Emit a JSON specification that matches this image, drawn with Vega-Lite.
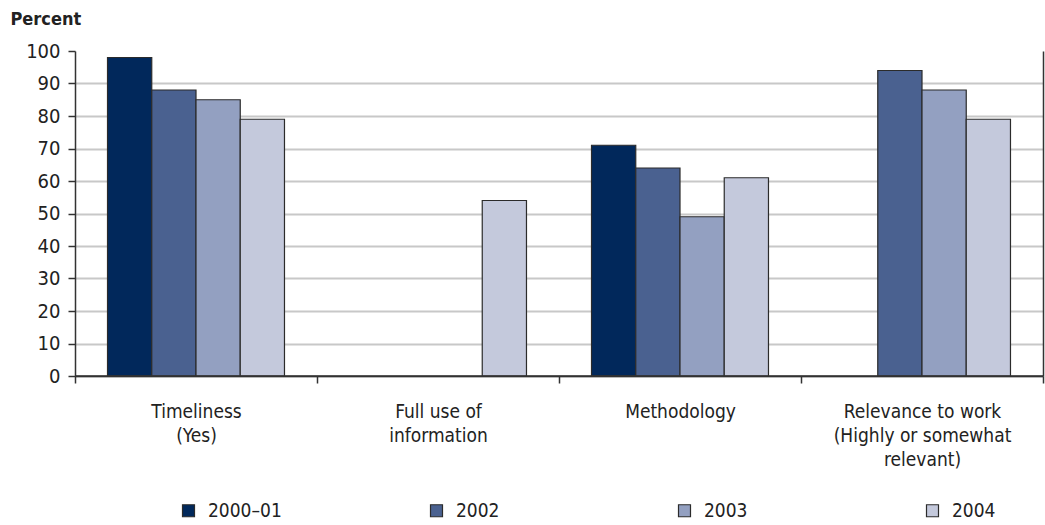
{
  "$schema": "https://vega.github.io/schema/vega-lite/v6.json",
  "autosize": {"type": "none"},
  "padding": {"left": 75, "top": 51, "right": 2, "bottom": 149},
  "width": 968,
  "height": 325,
  "background": "white",
  "config": {
    "view": {"stroke": null},
    "font": "DejaVu Sans Condensed, sans-serif",
    "axis": {"labelFont": "DejaVu Sans Condensed, sans-serif", "labelFontSize": 19, "labelColor": "#222222"}
  },
  "data": {
    "values": [
      {"category": "Timeliness\n(Yes)", "year": "2000–01", "percent": 98},
      {"category": "Timeliness\n(Yes)", "year": "2002", "percent": 88},
      {"category": "Timeliness\n(Yes)", "year": "2003", "percent": 85},
      {"category": "Timeliness\n(Yes)", "year": "2004", "percent": 79},
      {"category": "Full use of\ninformation", "year": "2004", "percent": 54},
      {"category": "Methodology", "year": "2000–01", "percent": 71},
      {"category": "Methodology", "year": "2002", "percent": 64},
      {"category": "Methodology", "year": "2003", "percent": 49},
      {"category": "Methodology", "year": "2004", "percent": 61},
      {"category": "Relevance to work\n(Highly or somewhat\nrelevant)", "year": "2002", "percent": 94},
      {"category": "Relevance to work\n(Highly or somewhat\nrelevant)", "year": "2003", "percent": 88},
      {"category": "Relevance to work\n(Highly or somewhat\nrelevant)", "year": "2004", "percent": 79}
    ]
  },
  "encoding": {
    "x": {
      "field": "category",
      "type": "nominal",
      "sort": null,
      "scale": {
        "domain": ["Timeliness\n(Yes)", "Full use of\ninformation", "Methodology", "Relevance to work\n(Highly or somewhat\nrelevant)"],
        "paddingInner": 0,
        "paddingOuter": 0
      },
      "axis": {
        "title": null,
        "labelAngle": 0,
        "labelExpr": "split(datum.label, '\\n')",
        "labelLineHeight": 24,
        "labelBaseline": "top",
        "labelPadding": 19,
        "labelLimit": 300,
        "tickBand": "extent",
        "tickSize": 7,
        "tickColor": "#333333",
        "tickWidth": 1.5,
        "domainColor": "#333333",
        "domainWidth": 1.5,
        "grid": false
      }
    },
    "y": {
      "field": "percent",
      "type": "quantitative",
      "scale": {"domain": [0, 100], "nice": false},
      "axis": {
        "title": "Percent",
        "titleAngle": 0,
        "titleAlign": "left",
        "titleBaseline": "alphabetic",
        "titleX": -65,
        "titleY": -27,
        "titleFont": "DejaVu Sans Condensed, sans-serif",
        "titleFontSize": 18,
        "titleFontWeight": "bold",
        "titleColor": "#222222",
        "values": [0, 10, 20, 30, 40, 50, 60, 70, 80, 90, 100],
        "labelFontSize": 20,
        "tickSize": 7,
        "tickColor": "#333333",
        "tickWidth": 1.5,
        "labelPadding": 8,
        "domainColor": "#333333",
        "domainWidth": 1.5,
        "grid": true,
        "gridColor": "#c8c8c8",
        "gridWidth": 2,
        "gridOpacity": {"condition": {"test": "datum.value >= 100", "value": 0}, "value": 1}
      }
    }
  },
  "layer": [
    {
      "mark": {"type": "bar", "stroke": "#2b2b2b", "strokeWidth": 1.2},
      "encoding": {
        "xOffset": {
          "field": "year",
          "type": "nominal",
          "scale": {"domain": ["2000–01", "2002", "2003", "2004"], "paddingInner": 0, "paddingOuter": 0.735}
        },
        "color": {
          "field": "year",
          "type": "nominal",
          "scale": {
            "domain": ["2000–01", "2002", "2003", "2004"],
            "range": ["#01285b", "#4a6190", "#93a0c1", "#c4c9dc"]
          },
          "legend": {
            "title": null,
            "orient": "none",
            "direction": "horizontal",
            "columns": 4,
            "legendX": 104,
            "legendY": 450,
            "gridAlign": "all",
            "columnPadding": 145,
            "symbolType": "square",
            "symbolSize": 144,
            "symbolStrokeColor": "#2b2b2b",
            "symbolStrokeWidth": 1.2,
            "symbolOpacity": 1,
            "labelFont": "DejaVu Sans Condensed, sans-serif",
            "labelFontSize": 19,
            "labelColor": "#222222",
            "labelOffset": 10
          }
        }
      }
    },
    {
      "data": {"values": [{"percent": 0}]},
      "mark": {"type": "rule", "color": "#333333", "strokeWidth": 1.5},
      "encoding": {
        "x": null,
        "y": {
          "field": "percent",
          "type": "quantitative",
          "axis": {
            "orient": "right",
            "title": null,
            "labels": false,
            "ticks": false,
            "grid": false,
            "domainColor": "#333333",
            "domainWidth": 1.5
          }
        }
      }
    }
  ],
  "resolve": {"axis": {"y": "independent"}}
}
